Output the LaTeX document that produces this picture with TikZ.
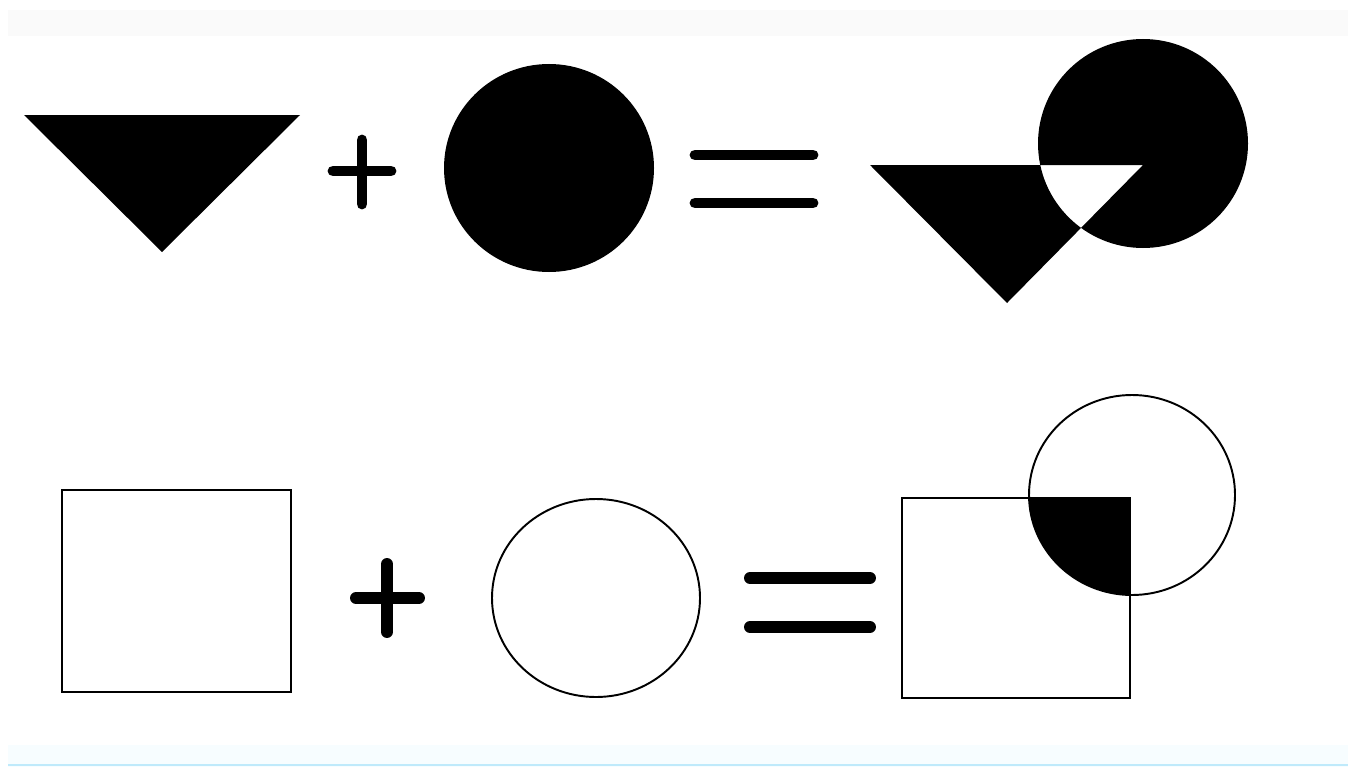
\documentclass[tikz,border=0pt]{standalone}
\begin{document}
\begin{tikzpicture}[x=0.02cm,y=-0.02cm,
  bar/.style={line width=6.2pt,line cap=round},
  barb/.style={line width=6.8pt,line cap=round},
  outl/.style={line width=1.1pt}]
\useasboundingbox (0,0) rectangle (1348,767);
\fill[white] (0,0) rectangle (1348,767);
\fill[black!2] (8,10) rectangle (1348,36);
\fill[cyan!3] (8,745) rectangle (1348,767);
\draw[cyan!25,line width=1.2pt] (8,765) -- (1348,765);
% top row
\fill (24,115) -- (300,115) -- (162,252) -- cycle;
\draw[bar] (333,171) -- (391,171);
\draw[bar] (362,140) -- (362,204);
\fill (549,168) ellipse [x radius=105,y radius=104];
\draw[bar] (695,155) -- (813,155);
\draw[bar] (695,203) -- (813,203);
\fill[even odd rule] (870,165) -- (1143,165) -- (1007,303) -- cycle
  (1143,143.5) ellipse [x radius=105,y radius=104.5];
% bottom row
\draw[outl] (62,490) rectangle (291,692);
\draw[barb] (356,598) -- (419,598);
\draw[barb] (387,564) -- (387,632);
\draw[outl] (596,598) ellipse [x radius=104,y radius=99];
\draw[barb] (750,578) -- (870,578);
\draw[barb] (750,627) -- (870,627);
\begin{scope}
  \clip (902,498) rectangle (1130,698);
  \fill (1132,495) ellipse [x radius=103,y radius=100];
\end{scope}
\draw[outl] (902,498) rectangle (1130,698);
\draw[outl] (1132,495) ellipse [x radius=103,y radius=100];
\end{tikzpicture}
\end{document}
